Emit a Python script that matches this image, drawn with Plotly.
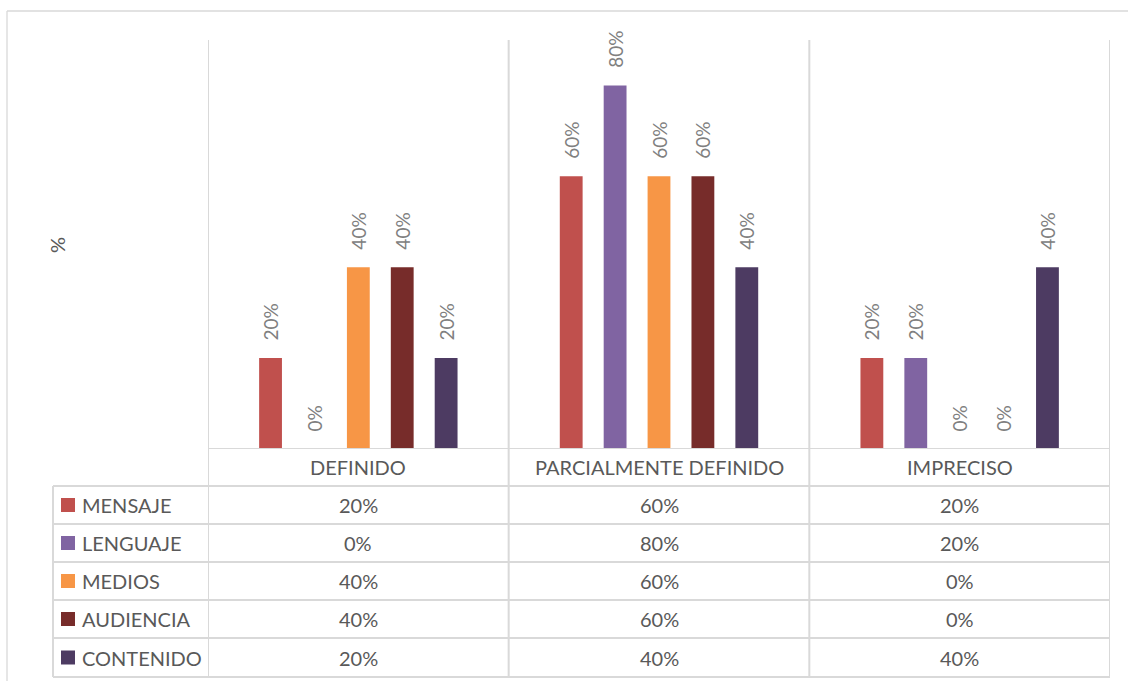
import plotly.graph_objects as go

categories = ["DEFINIDO", "PARCIALMENTE DEFINIDO", "IMPRECISO"]
series_names = ["MENSAJE", "LENGUAJE", "MEDIOS", "AUDIENCIA", "CONTENIDO"]
mensaje = [0.20, 0.60, 0.20]
lenguaje = [0.00, 0.80, 0.20]
medios = [0.40, 0.60, 0.00]
audiencia = [0.40, 0.60, 0.00]
contenido = [0.20, 0.40, 0.40]
series_values = [mensaje, lenguaje, medios, audiencia, contenido]
colors = ["#C0504D", "#8064A2", "#F79646", "#772C2A", "#4D3B62"]
y_title = "%"

W, H = 1128, 681
FONT = "Lato"
GRID = "#D9D9D9"
TXT = "#595959"


def px(x):
    return x / W


def py(y):
    return 1 - y / H


fig = go.Figure()
for name, vals, col in zip(series_names, series_values, colors):
    fig.add_trace(go.Bar(
        name=name, x=categories, y=vals,
        marker=dict(color=col, line=dict(width=0)),
        texttemplate="\u00a0\u00a0\u00a0%{y:.0%}",
        textposition="outside", textangle=-90, constraintext="none",
        textfont=dict(family=FONT, size=19, color="#808080"),
        cliponaxis=False,
    ))

shapes = []
# outer chart border (top and left visible)
shapes.append(dict(type="line", xref="paper", yref="paper", x0=px(7), x1=px(W + 5), y0=py(11), y1=py(11),
                   line=dict(color=GRID, width=1.3)))
shapes.append(dict(type="line", xref="paper", yref="paper", x0=px(7), x1=px(7), y0=py(11), y1=py(H + 5),
                   line=dict(color=GRID, width=1.3)))
# vertical category boundary lines (through chart and table)
for b in [-0.5, 0.5, 1.5, 2.5]:
    shapes.append(dict(type="line", xref="x", yref="paper", x0=b, x1=b, y0=py(40), y1=py(677),
                       line=dict(color=GRID, width=2)))
# baseline / header top
shapes.append(dict(type="line", xref="x", yref="y", x0=-0.5, x1=2.5, y0=0, y1=0,
                   line=dict(color=GRID, width=2)))
# table horizontal lines
row_tops = [486, 524, 562, 600, 638]
row_bottom = 677
for yy in row_tops + [row_bottom]:
    shapes.append(dict(type="line", xref="paper", yref="paper", x0=px(53), x1=px(1110), y0=py(yy), y1=py(yy),
                       line=dict(color=GRID, width=2)))
shapes.append(dict(type="line", xref="paper", yref="paper", x0=px(53), x1=px(53), y0=py(486), y1=py(677),
                   line=dict(color=GRID, width=2)))

annotations = []
# header category labels
for c in categories:
    annotations.append(dict(x=c, xref="x", y=py(467), yref="paper", text=c, showarrow=False,
                            font=dict(family=FONT, size=20, color=TXT), xanchor="center", yanchor="middle"))
# rows
row_edges = row_tops + [row_bottom]
for i, (name, vals, col) in enumerate(zip(series_names, series_values, colors)):
    yc = (row_edges[i] + row_edges[i + 1]) / 2
    shapes.append(dict(type="rect", xref="paper", yref="paper", x0=px(61), x1=px(75), y0=py(yc - 7), y1=py(yc + 7),
                       fillcolor=col, line=dict(width=0)))
    annotations.append(dict(x=px(80), xref="paper", y=py(yc), yref="paper", text=name, showarrow=False,
                            font=dict(family=FONT, size=20, color=TXT), xanchor="left", yanchor="middle"))
    for c, v in zip(categories, vals):
        annotations.append(dict(x=c, xref="x", y=py(yc), yref="paper", text=f"{round(v * 100)}%", showarrow=False,
                                font=dict(family=FONT, size=20, color=TXT), xanchor="center", yanchor="middle"))
# y-axis title
annotations.append(dict(x=px(57), xref="paper", y=py(245), yref="paper", text=y_title, showarrow=False,
                        textangle=-90, xanchor="center", yanchor="middle",
                        font=dict(family=FONT, size=20, color=TXT)))

fig.update_layout(
    width=W, height=H, margin=dict(l=0, r=0, t=0, b=0),
    paper_bgcolor="white", plot_bgcolor="white",
    barmode="group", bargap=0.27, bargroupgap=0.48,
    showlegend=False,
    xaxis=dict(domain=[px(208), px(1110)], showgrid=False, showticklabels=False, zeroline=False,
               showline=False, ticks="", range=[-0.5, 2.5]),
    yaxis=dict(domain=[py(449), py(40)], range=[0, 0.9], showgrid=False, showticklabels=False,
               zeroline=False, showline=False, ticks=""),
    shapes=shapes, annotations=annotations,
)

fig.write_html("out.html")
